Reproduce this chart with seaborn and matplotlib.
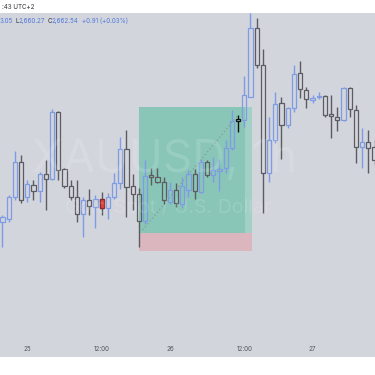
import numpy as np
import pandas as pd
import seaborn as sns
import matplotlib
matplotlib.use('Agg')
import matplotlib.pyplot as plt
from matplotlib.patches import Rectangle

# hourly candles, XAUUSD
opens = [2665, 2666.5, 2677.5, 2695, 2677.5, 2683.5, 2680.5, 2689, 2686.5, 2720,
         2691.5, 2683, 2677.5, 2669, 2676, 2672.5, 2676.5, 2672, 2677.5, 2684.5,
         2701.5, 2683, 2679, 2665.5, 2688.5, 2687.5, 2685, 2675, 2681, 2674,
         2681, 2689, 2680, 2695, 2688.5, 2690.5, 2692, 2702, 2716.3, 2716,
         2727.5, 2762, 2743.5, 2689.5, 2706, 2724.5, 2713.5, 2722, 2739.5, 2731,
         2726, 2727.3, 2728, 2719, 2717.5, 2716, 2732, 2721, 2702.5, 2705, 2702.5]
highs = [2668.5, 2678.5, 2700.5, 2698.5, 2686, 2686, 2690, 2696, 2721.5, 2720.5,
         2692, 2686, 2686, 2677.5, 2681.5, 2678.5, 2680, 2679.5, 2689.5, 2707.5,
         2711, 2689, 2682, 2696, 2692, 2692, 2687.5, 2685, 2684.5, 2687.5,
         2691, 2691.5, 2696.5, 2696, 2697.5, 2696.5, 2706, 2721, 2718.5, 2738,
         2769.5, 2767, 2751.5, 2717.5, 2730, 2727.5, 2722.5, 2743.5, 2745.5, 2732.5,
         2728.5, 2730, 2728.5, 2728.5, 2722.5, 2732.5, 2732.5, 2723.5, 2712, 2711, 2706]
lows = [2652.5, 2665, 2676, 2674.5, 2675, 2676, 2675, 2671, 2686, 2686,
        2682, 2676, 2665, 2657.5, 2668.5, 2662, 2668.5, 2666.5, 2676.5, 2681.5,
        2667.5, 2671, 2652.5, 2664, 2683.5, 2684.5, 2674, 2674, 2672.5, 2672,
        2677.5, 2676.5, 2679.5, 2687.5, 2685, 2680.5, 2689.5, 2701, 2710, 2712.5,
        2727.5, 2742, 2669.5, 2685, 2704.5, 2696.5, 2712, 2720, 2727, 2722,
        2724.5, 2726.5, 2717.5, 2707, 2710.5, 2715.5, 2717.5, 2694.5, 2692, 2689.5, 2693.5]
closes = [2667.5, 2677.5, 2695, 2676, 2684, 2680.5, 2689, 2686.5, 2720, 2691,
          2683, 2677.5, 2669, 2676, 2673, 2676.5, 2672, 2677.5, 2684.5, 2701.5,
          2682.5, 2679, 2665.5, 2688, 2687.5, 2685, 2676, 2681, 2674.5, 2683,
          2689, 2680.5, 2695, 2688.5, 2691, 2691.5, 2702, 2715.5, 2715.7, 2728.5,
          2762, 2743.5, 2689.5, 2706, 2724, 2713.5, 2722, 2739, 2731.5, 2726.5,
          2727, 2728, 2718.5, 2718, 2716, 2732, 2721.5, 2702.5, 2705, 2702, 2696]

red_bar = 16      # filled red candle
cursor_bar = 38   # black candle

tick_pos = [4, 16, 27, 39, 50]
tick_labels = ['25', '12:00', '26', '12:00', '27']

# long position tool
entry = 2659.5
target = 2722.5
stop = 2650.5
box_start, box_end, box_fade = 22, 40.2, 39.1
dots_x = [22.6, 38]
dots_y = [2661, 2718.5]

df = pd.DataFrame({'open': opens, 'high': highs, 'low': lows, 'close': closes})
df['x'] = np.arange(len(df))
df['top'] = df[['open', 'close']].max(axis=1)
df['bot'] = df[['open', 'close']].min(axis=1)

BG = '#d3d5dd'
BLUE = '#7d9ce4'
DARK = '#5c5c60'

sns.set_style('white')
plt.rcParams['font.family'] = ['Inter', 'DejaVu Sans']

fig = plt.figure(figsize=(3.75, 3.75), dpi=100, facecolor='white')
ax = fig.add_axes([0, 18 / 375, 1, 344 / 375])
ax.set_facecolor(BG)

# position boxes
ax.add_patch(Rectangle((box_start, entry), box_end - box_start, target - entry,
                       facecolor='#89c6b8', edgecolor='none', zorder=1))
ax.add_patch(Rectangle((box_fade, entry), box_end - box_fade, target - entry,
                       facecolor='#a3d0c6', edgecolor='none', zorder=1))
ax.add_patch(Rectangle((box_start, stop), box_end - box_start, entry - stop,
                       facecolor='#dcb6bf', edgecolor='none', zorder=1))

# watermark (figure pixel coords, from the top)
fig.text(165 / 375, 1 - 160 / 375, 'XAUUSD, 1h', fontsize=33, color='white', alpha=0.13,
         ha='center', va='center', zorder=0.5)
fig.text(168 / 375, 1 - 207 / 375, 'Gold Spot / U.S. Dollar', fontsize=14, color='white',
         alpha=0.13, ha='center', va='center', zorder=0.5)

sns.lineplot(x=dots_x, y=dots_y, ax=ax, color='#8a9a94', linewidth=0.9,
             linestyle=(0, (1, 2)), zorder=2)

colors = np.where(df['close'] >= df['open'], BLUE, DARK).astype(object)
colors[cursor_bar] = '#111111'
ax.vlines(df['x'], df['top'], df['high'], colors=list(colors), linewidth=1.0, zorder=3)
ax.vlines(df['x'], df['low'], df['bot'], colors=list(colors), linewidth=1.0, zorder=3)
heights = np.maximum(df['top'] - df['bot'], 0.4)
ax.bar(df['x'], heights, bottom=df['bot'], width=0.7, facecolor='none',
       edgecolor=list(colors), linewidth=0.9, zorder=4)
ax.bar(df['x'][red_bar], heights[red_bar], bottom=df['bot'][red_bar], width=0.7,
       facecolor='#e0463f', edgecolor='#8a2a2a', linewidth=0.9, zorder=5)

ax.set_xlim(-0.4, 60.08)
ax.set_ylim(2597.5, 2769.5)
ax.set_xticks(tick_pos)
ax.set_xticklabels(tick_labels)
ax.tick_params(axis='x', length=0, pad=-8, labelsize=4.5, labelcolor='#55575e')
ax.set_yticks([])
for s in ax.spines.values():
    s.set_visible(False)

# header text
fig.text(1.5 / 375, 1 - 7 / 375, ':43 UTC+2', fontsize=4.5, color='#333', va='center')
hy = 1 - 21 / 375
fig.text(0 / 375, hy, '3.05', fontsize=4.5, color='#4f78d8', va='center')
fig.text(15 / 375, hy, 'L', fontsize=4.5, color='#333', va='center')
fig.text(18.5 / 375, hy, '2,660.27', fontsize=4.5, color='#4f78d8', va='center')
fig.text(47.5 / 375, hy, 'C', fontsize=4.5, color='#333', va='center')
fig.text(51.5 / 375, hy, '2,662.54', fontsize=4.5, color='#4f78d8', va='center')
fig.text(82 / 375, hy, '+0.91 (+0.03%)', fontsize=4.5, color='#4f78d8', va='center')

fig.savefig('out.png', dpi=100, facecolor='white')
